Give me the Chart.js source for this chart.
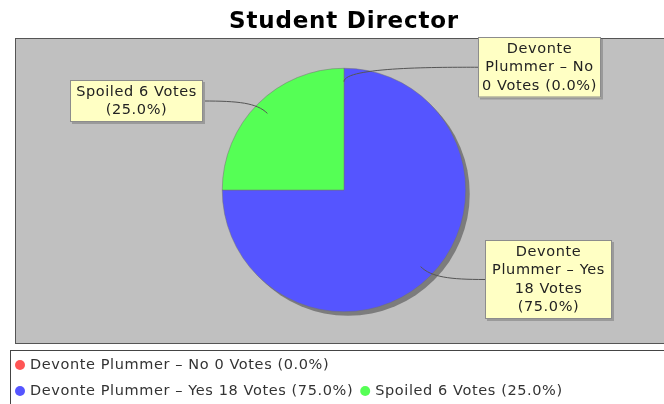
<!DOCTYPE html>
<html>
<head>
<meta charset="utf-8">
<script src="https://cdn.jsdelivr.net/npm/chart.js@4.4.0/dist/chart.umd.min.js"></script>
<style>
  body { margin: 0; background: #fff; }
  #wrap { width: 664px; height: 404px; }
</style>
</head>
<body>
<div id="wrap"><canvas id="myChart" width="664" height="404"></canvas></div>
<script>
const chartTitle = 'Student Director';
const categories = ['Devonte Plummer – No', 'Devonte Plummer – Yes', 'Spoiled'];
const votes = [0, 18, 6];
const sliceColors = ['#ff5555', '#5555ff', '#55ff55'];
// wrapped label text, one array of lines per slice
const labelLines = [
  ['Devonte', 'Plummer – No', '0 Votes (0.0%)'],
  ['Devonte', 'Plummer – Yes', '18 Votes', '(75.0%)'],
  ['Spoiled 6 Votes', '(25.0%)']
];
// legend rows (indexes into categories)
const legendRows = [[0], [1, 2]];

const totalVotes = votes.reduce((a, b) => a + b, 0);
const legendText = function (i) {
  const pct = (votes[i] / totalVotes * 100).toFixed(1);
  return `${categories[i]} ${votes[i]} Votes (${pct}%)`;
};

const FONT = '14.5px "DejaVu Sans"';
const SPACING = '0.6px';
const LINE_H = 18.5;
// label box placement: left, top, width, side the link leaves from
const labelBoxes = [
  { x: 478, y: 37, w: 123, side: 'left' },
  { x: 485, y: 240, w: 127, side: 'left' },
  { x: 70, y: 80, w: 133, side: 'right' }
];

const jfreePlugin = {
  id: 'jfree',
  beforeDraw(chart) {
    const ctx = chart.ctx;
    ctx.save();
    // title
    ctx.fillStyle = '#000';
    ctx.font = 'bold 23px "DejaVu Sans"';
    ctx.letterSpacing = '0.8px';
    ctx.textAlign = 'center';
    ctx.textBaseline = 'middle';
    ctx.fillText(chartTitle, 344, 22);
    // plot background
    ctx.fillStyle = '#c0c0c0';
    ctx.fillRect(15, 38, 660, 305);
    ctx.strokeStyle = '#555';
    ctx.lineWidth = 1;
    ctx.strokeRect(15.5, 38.5, 660, 305);
    ctx.restore();
  },
  beforeDatasetsDraw(chart) {
    const arc = chart.getDatasetMeta(0).data[1];
    const ctx = chart.ctx;
    ctx.save();
    ctx.fillStyle = '#7c7c7c';
    ctx.beginPath();
    ctx.arc(arc.x + 4, arc.y + 4, arc.outerRadius, 0, Math.PI * 2);
    ctx.fill();
    ctx.restore();
  },
  afterDatasetsDraw(chart) {
    const ctx = chart.ctx;
    const arcs = chart.getDatasetMeta(0).data;
    ctx.save();
    ctx.font = FONT;
    ctx.letterSpacing = SPACING;
    ctx.textAlign = 'center';
    ctx.textBaseline = 'middle';
    arcs.forEach(function (arc, i) {
      const box = labelBoxes[i];
      const lines = labelLines[i];
      const h = lines.length * LINE_H + 5;
      const mid = (arc.startAngle + arc.endAngle) / 2;
      const r = arc.outerRadius;
      const ax = arc.x + Math.cos(mid) * r * 0.89;
      const ay = arc.y + Math.sin(mid) * r * 0.89;
      const ex = box.side === 'left' ? box.x : box.x + box.w;
      const ey = box.y + h / 2;
      // link
      ctx.strokeStyle = '#555';
      ctx.lineWidth = 1;
      ctx.beginPath();
      ctx.moveTo(ex, ey);
      ctx.bezierCurveTo(ex + (box.side === 'left' ? -35 : 35), ey,
        ax + Math.cos(mid) * 15, ay + Math.sin(mid) * 15, ax, ay);
      ctx.stroke();
      // box shadow + box
      ctx.fillStyle = '#9a9a9a';
      ctx.fillRect(box.x + 2, box.y + 2, box.w, h);
      ctx.fillStyle = '#ffffc4';
      ctx.fillRect(box.x, box.y, box.w, h);
      ctx.strokeStyle = '#8c8c8c';
      ctx.strokeRect(box.x + 0.5, box.y + 0.5, box.w - 1, h - 1);
      ctx.fillStyle = '#222';
      lines.forEach(function (line, k) {
        ctx.fillText(line, box.x + box.w / 2, box.y + 2.5 + LINE_H * (k + 0.5));
      });
    });
    ctx.restore();
  },
  afterDraw(chart) {
    const ctx = chart.ctx;
    ctx.save();
    ctx.fillStyle = '#fff';
    ctx.fillRect(10, 350, 670, 60);
    ctx.strokeStyle = '#444';
    ctx.lineWidth = 1;
    ctx.strokeRect(10.5, 350.5, 670, 60);
    ctx.font = FONT;
    ctx.letterSpacing = SPACING;
    ctx.textBaseline = 'middle';
    ctx.textAlign = 'left';
    legendRows.forEach(function (row, r) {
      const y = 365 + r * 26;
      let x = 20;
      row.forEach(function (i) {
        ctx.fillStyle = sliceColors[i];
        ctx.beginPath();
        ctx.arc(x, y, 5, 0, Math.PI * 2);
        ctx.fill();
        const txt = legendText(i);
        ctx.fillStyle = '#333';
        ctx.fillText(txt, x + 10, y);
        x += 10 + ctx.measureText(txt).width + 12;
      });
    });
    ctx.restore();
  }
};

const myChart = new Chart(document.getElementById('myChart').getContext('2d'), {
  type: 'pie',
  data: {
    labels: categories,
    datasets: [{
      data: votes,
      backgroundColor: sliceColors,
      borderColor: '#707070',
      borderWidth: 0.5
    }]
  },
  options: {
    responsive: false,
    animation: false,
    events: [],
    layout: { padding: { left: 222, right: 198, top: 68, bottom: 92 } },
    plugins: {
      legend: { display: false },
      title: { display: false },
      tooltip: { enabled: false }
    }
  },
  plugins: [jfreePlugin]
});
</script>
</body>
</html>
